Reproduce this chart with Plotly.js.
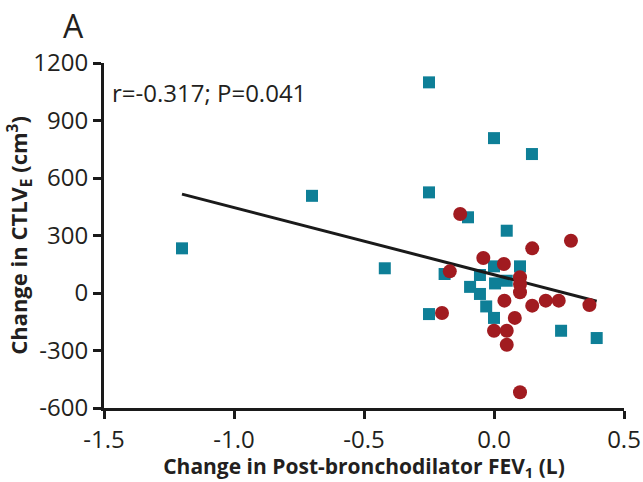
<!DOCTYPE html>
<html><head><meta charset="utf-8">
<script src="https://cdn.plot.ly/plotly-3.0.1.min.js"></script>
<style>html,body{margin:0;padding:0;background:#fff}#chart{width:643px;height:482px}</style>
</head><body><div id="chart"></div>
<script>
// Group 1 (teal squares)
var teaX = [-1.2, -0.7, -0.42, -0.25, -0.25, 0.0, 0.146, 0.049, -0.1, 0.0, 0.1, -0.19, -0.054, 0.049, 0.004, -0.092, -0.054, -0.03, 0.0, -0.25, 0.258, 0.395];
var teaY = [233, 507, 129, 1099, 525, 808, 725, 325, 395, 139, 139, 99, 94, 64, 50, 32, -5, -70, -130, -110, -197, -235];
// Group 2 (red circles)
var redX = [-0.13, 0.147, 0.296, -0.041, 0.038, -0.17, 0.1, 0.1, 0.1, 0.04, 0.147, 0.199, 0.249, 0.367, 0.08, -0.2, 0.0, 0.049, 0.049, 0.1];
var redY = [412, 233, 273, 183, 151, 113, 82, 47, 4, -40, -66, -40, -40, -63, -130, -104, -197, -197, -270, -518];
// Regression line endpoints
var fitX = [-1.2, 0.395];
var fitY = [516, -43];
var xTicks = [-1.5, -1.0, -0.5, 0.0, 0.5];
var xTickText = ['-1.5', '-1.0', '-0.5', '0.0', '0.5'];
var yTicks = [-600, -300, 0, 300, 600, 900, 1200];
var yTickText = ['-600', '-300', '0', '300', '600', '900', '1200'];

var fontFam = '"Open Sans", sans-serif';
var txt = '#231f20';
var traces = [
  {x: teaX, y: teaY, type: 'scatter', mode: 'markers',
   marker: {symbol: 'square', size: 12, color: '#0e7f97'}},
  {x: fitX, y: fitY, type: 'scatter', mode: 'lines',
   line: {color: '#1a1a1a', width: 3}},
  {x: redX, y: redY, type: 'scatter', mode: 'markers',
   marker: {symbol: 'circle', size: 14, color: '#a11b20'}}
];
var layout = {
  width: 643, height: 482,
  margin: {l: 104, r: 19, t: 63, b: 74},
  paper_bgcolor: '#fff', plot_bgcolor: '#fff',
  showlegend: false,
  font: {family: fontFam, color: txt},
  xaxis: {range: [-1.5, 0.5], tickvals: xTicks, ticktext: xTickText,
    showgrid: false, zeroline: false, showline: true, linewidth: 3, linecolor: '#1a1a1a',
    ticks: 'outside', ticklen: 8, tickwidth: 3, tickcolor: '#1a1a1a',
    tickfont: {size: 24, color: txt, family: fontFam},
    title: {text: '<b>Change in Post-bronchodilator FEV<sub>1</sub> (L)</b>', font: {size: 21, color: txt, family: fontFam}, standoff: 0}},
  yaxis: {range: [-600, 1200], tickvals: yTicks, ticktext: yTickText,
    showgrid: false, zeroline: false, showline: true, linewidth: 3, linecolor: '#1a1a1a',
    ticks: 'outside', ticklen: 8, tickwidth: 3, tickcolor: '#1a1a1a',
    tickfont: {size: 24, color: txt, family: fontFam},
    title: {text: '<b>Change in CTLV<sub>E</sub> (cm<sup>3</sup>)</b>', font: {size: 22, color: txt, family: fontFam}, standoff: 0}},
  annotations: [
    {text: 'r=-0.317; P=0.041', xref: 'paper', yref: 'paper', x: 0.012, y: 0.915,
     xanchor: 'left', yanchor: 'middle', showarrow: false, font: {size: 24, color: txt, family: fontFam}},
    {text: 'A', xref: 'paper', yref: 'paper', x: -0.058, y: 1.11,
     xanchor: 'center', yanchor: 'middle', showarrow: false, font: {size: 32, color: txt, family: fontFam}}
  ]
};
Plotly.newPlot('chart', traces, layout, {displayModeBar: false, staticPlot: true});
</script></body></html>
